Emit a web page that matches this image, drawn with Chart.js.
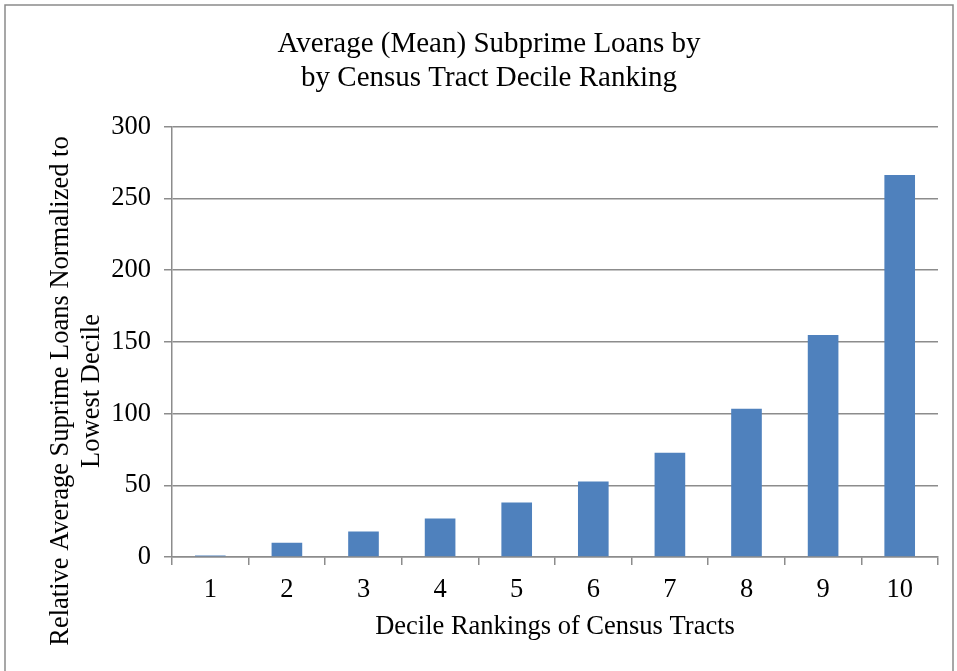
<!DOCTYPE html>
<html>
<head>
<meta charset="utf-8">
<script src="https://cdn.jsdelivr.net/npm/chart.js@4/dist/chart.umd.min.js"></script>
<style>
  html, body { margin: 0; padding: 0; background: #fff; }
  #wrap { width: 957px; height: 671px; position: relative; }
</style>
</head>
<body>
<div id="wrap"><canvas id="c" width="957" height="671"></canvas></div>
<script>
// Decile rankings and their mean subprime loan counts (normalized to the lowest decile)
const deciles = ['1', '2', '3', '4', '5', '6', '7', '8', '9', '10'];
const relativeLoans = [1, 10, 17.7, 26.8, 38, 52.6, 72.6, 103.3, 154.7, 266.3];
const yTicks = [0, 50, 100, 150, 200, 250, 300];

const chartTitle = ['Average (Mean) Subprime Loans by', 'by Census Tract Decile Ranking'];
const xTitle = 'Decile Rankings of Census Tracts';
const yTitle = ['Relative Average Suprime Loans Normalized to', 'Lowest Decile'];

const SERIF = '"Liberation Serif", "Times New Roman", serif';
const GRID = '#8c8c8c';

// Frame around the whole figure
const framePlugin = {
  id: 'frame',
  afterDraw(chart) {
    const ctx = chart.ctx;
    ctx.save();
    ctx.strokeStyle = '#8a8a8a';
    ctx.lineWidth = 1.5;
    ctx.beginPath();
    ctx.moveTo(5, 680);
    ctx.lineTo(5, 5);
    ctx.lineTo(953, 5);
    ctx.lineTo(953, 680);
    ctx.stroke();
    ctx.restore();
  }
};

// Two-line rotated y-axis caption
const yCaptionPlugin = {
  id: 'yCaption',
  afterDraw(chart) {
    const ctx = chart.ctx;
    const area = chart.chartArea;
    ctx.save();
    ctx.fillStyle = '#000';
    ctx.font = '26.5px ' + SERIF;
    ctx.textAlign = 'center';
    ctx.textBaseline = 'alphabetic';
    ctx.translate(0, area.bottom - 166);
    ctx.rotate(-Math.PI / 2);
    ctx.fillText(yTitle[0], 0, area.left - 104);
    ctx.fillText(yTitle[1], 0, area.left - 73);
    ctx.restore();
  }
};

new Chart(document.getElementById('c'), {
  type: 'bar',
  data: {
    labels: deciles,
    datasets: [{
      data: relativeLoans,
      backgroundColor: '#4f81bd',
      borderWidth: 0,
      barPercentage: 0.4,
      categoryPercentage: 1.0
    }]
  },
  options: {
    responsive: false,
    animation: false,
    devicePixelRatio: 1,
    layout: { padding: { left: 40, right: 19, top: 0, bottom: 0 } },
    plugins: {
      legend: { display: false },
      tooltip: { enabled: false },
      title: {
        display: true,
        text: chartTitle,
        color: '#000',
        font: { family: SERIF, size: 29, weight: 'normal', lineHeight: 1.15 },
        padding: { top: 28, bottom: 32 }
      }
    },
    scales: {
      x: {
        grid: {
          display: true,
          offset: true,
          drawOnChartArea: false,
          drawTicks: true,
          tickLength: 8,
          color: GRID,
          lineWidth: 1.5
        },
        border: { display: true, color: GRID, width: 1.5 },
        ticks: {
          color: '#000',
          font: { family: SERIF, size: 26.5 },
          padding: 9
        },
        title: {
          display: true,
          text: xTitle,
          color: '#000',
          font: { family: SERIF, size: 26.5, lineHeight: 1.2 },
          padding: { top: 0, bottom: 28 }
        },
        afterFit(scale) { scale.height = 114; }
      },
      y: {
        min: 0,
        max: 300,
        afterBuildTicks(scale) { scale.ticks = yTicks.map(v => ({ value: v })); },
        grid: {
          color: GRID,
          lineWidth: 1.5,
          drawTicks: true,
          tickLength: 8
        },
        border: { display: true, color: GRID, width: 1.5 },
        ticks: {
          color: '#000',
          font: { family: SERIF, size: 26.5 },
          padding: 13
        },
        afterFit(scale) { scale.width = 132; }
      }
    }
  },
  plugins: [framePlugin, yCaptionPlugin]
});
</script>
</body>
</html>
